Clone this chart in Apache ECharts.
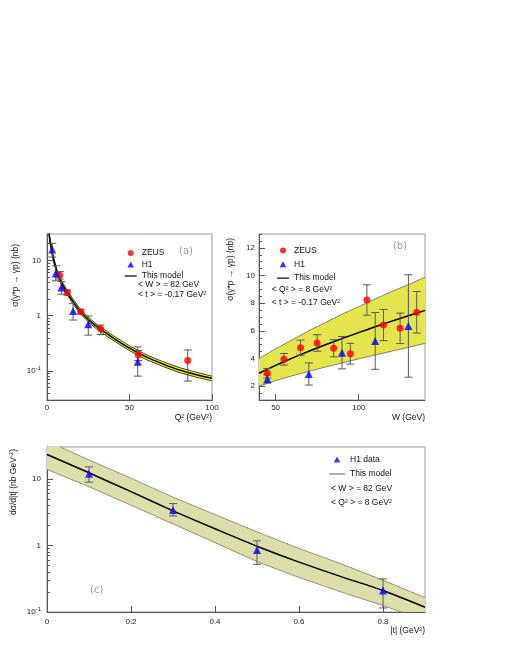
<!DOCTYPE html>
<html>
<head>
<meta charset="utf-8">
<script src="https://cdn.jsdelivr.net/npm/echarts@6/dist/echarts.min.js"></script>
<style>
  html, body { margin: 0; padding: 0; background: #fff; }
  #chart { width: 510px; height: 660px; }
</style>
</head>
<body>
<div id="chart"></div>
<script>
const FONT = 'Liberation Sans, Arial, sans-serif'

// (a) cross section vs Q2
const zeusQ2 = [7.7, 12.3, 20.4, 32.5, 55.3, 85.3]
const zeusQ2Sigma = [5.4, 2.62, 1.18, 0.58, 0.195, 0.156]
const zeusQ2Lo = [4.6, 2.35, 1.08, 0.46, 0.155, 0.066]
const zeusQ2Hi = [6.3, 2.9, 1.3, 0.68, 0.235, 0.241]
const h1Q2 = [3.2, 5.3, 8.7, 15.8, 25, 55]
const h1Q2Sigma = [15.7, 5.8, 3.23, 1.22, 0.7, 0.148]
const h1Q2Lo = [11.5, 4.28, 2.45, 0.836, 0.446, 0.081]
const h1Q2Hi = [20.4, 8.0, 4.15, 1.65, 0.99, 0.273]
const modelQ2 = [1.2, 2, 3, 4, 5, 6, 8, 10, 12, 15, 20, 25, 30, 40, 50, 60, 70, 80, 90, 100]
const modelQ2Sigma = [31, 21, 14.5, 10.5, 8, 6.3, 4.4, 3.4, 2.7, 1.95, 1.22, 0.86, 0.64, 0.4, 0.26, 0.18, 0.135, 0.105, 0.087, 0.074]
const modelQ2Hi = [34, 23.1, 16, 11.6, 8.8, 6.9, 4.85, 3.75, 2.97, 2.15, 1.34, 0.95, 0.7, 0.44, 0.286, 0.198, 0.149, 0.116, 0.096, 0.081]
const modelQ2Lo = [27.9, 18.9, 13.1, 9.45, 7.2, 5.67, 3.96, 3.06, 2.43, 1.76, 1.1, 0.774, 0.576, 0.36, 0.234, 0.162, 0.122, 0.0945, 0.078, 0.0666]

// (b) cross section vs W
const zeusW = [45, 55, 65, 75, 85, 95, 105, 115, 125, 135]
const zeusWSigma = [2.93, 3.94, 4.78, 5.12, 4.74, 4.35, 8.23, 6.42, 6.18, 7.34]
const zeusWErr = [0.35, 0.42, 0.55, 0.6, 0.62, 0.75, 1.1, 1.13, 1.1, 1.5]
const h1W = [45, 70, 90, 110, 130]
const h1WSigma = [2.52, 2.88, 4.42, 5.27, 6.35]
const h1WErr = [0.3, 0.8, 1.17, 2.05, 3.7]
const modelW = [40, 50, 60, 70, 80, 90, 100, 110, 120, 130, 140]
const modelWSigma = [2.93, 3.5, 4.03, 4.52, 4.99, 5.44, 5.87, 6.29, 6.7, 7.09, 7.48]
const modelWHi = [4.0, 4.7, 5.35, 6.0, 6.6, 7.2, 7.75, 8.3, 8.85, 9.35, 9.87]
const modelWLo = [2.0, 2.4, 2.75, 3.07, 3.38, 3.68, 3.97, 4.25, 4.53, 4.8, 5.1]

// (c) d sigma / d|t|
const h1T = [0.1, 0.3, 0.5, 0.8]
const h1TSigma = [11.9, 3.4, 0.85, 0.21]
const h1TLo = [8.9, 2.77, 0.52, 0.115]
const h1THi = [15.1, 4.24, 1.17, 0.314]
const modelT = [0, 0.1, 0.2, 0.3, 0.4, 0.5, 0.6, 0.7, 0.8, 0.9]
const modelTSigma = [23.1, 12.3, 6.4, 3.3, 1.78, 0.97, 0.56, 0.34, 0.21, 0.118]
const modelTHi = [37, 19.2, 10.2, 5.3, 2.9, 1.6, 0.9, 0.53, 0.3, 0.165]
const modelTLo = [13.8, 7.6, 4.0, 2.1, 1.1, 0.57, 0.33, 0.2, 0.125, 0.075]

// tick values
const logMajorTicks = [0.1, 1, 10]
const logMinorA = [0.04, 0.05, 0.06, 0.07, 0.08, 0.09, 0.2, 0.3, 0.4, 0.5, 0.6, 0.7, 0.8, 0.9, 2, 3, 4, 5, 6, 7, 8, 9, 20]
const logMinorC = [0.2, 0.3, 0.4, 0.5, 0.6, 0.7, 0.8, 0.9, 2, 3, 4, 5, 6, 7, 8, 9, 20]
const wTicks = [50, 100]
const sigmaWTicks = [2, 4, 6, 8, 10, 12]
const tTicks = [0, 0.2, 0.4, 0.6, 0.8]

const supRich = { s: { fontSize: 6, fontFamily: FONT, padding: [0, 0, 5, 0] } }
const LINE_ICON = 'path://M0,0h24v2.4h-24z'
const TRI_ICON = 'path://M5,0L10,9L0,9z'

function logLabel(v) {
  if (Math.abs(v - 10) < 1e-6) return '10'
  if (Math.abs(v - 1) < 1e-6) return '1'
  if (Math.abs(v - 0.1) < 1e-6) return '10{s|-1}'
  return ''
}

function errorBars(params, api) {
  const x = api.value(0)
  const lo = api.coord([x, api.value(2)])
  const hi = api.coord([x, api.value(3)])
  const cap = 4
  const style = { stroke: '#5a5a5a', lineWidth: 1 }
  return {
    type: 'group',
    children: [
      { type: 'line', shape: { x1: lo[0], y1: lo[1], x2: hi[0], y2: hi[1] }, style },
      { type: 'line', shape: { x1: lo[0] - cap, y1: lo[1], x2: lo[0] + cap, y2: lo[1] }, style },
      { type: 'line', shape: { x1: hi[0] - cap, y1: hi[1], x2: hi[0] + cap, y2: hi[1] }, style }
    ]
  }
}

function band(xs, lo, hi, fill, stroke, width) {
  return function (params, api) {
    const up = xs.map((x, i) => api.coord([x, hi[i]]))
    const dn = xs.map((x, i) => api.coord([x, lo[i]]))
    return {
      type: 'group',
      children: [
        { type: 'polygon', shape: { points: up.concat(dn.slice().reverse()) }, style: { fill, stroke: 'none' } },
        { type: 'polyline', shape: { points: up }, style: { stroke, fill: 'none', lineWidth: width } },
        { type: 'polyline', shape: { points: dn }, style: { stroke, fill: 'none', lineWidth: width } }
      ]
    }
  }
}

function pairs(xs, ys) {
  return xs.map((x, i) => [x, ys[i]])
}

const axisLine = { show: true, lineStyle: { color: '#555', width: 1 } }
const tickLabel = { color: '#222', fontSize: 8, fontFamily: FONT }
const legendText = { fontSize: 8.5, lineHeight: 10, fontFamily: FONT, color: '#111' }
const paramText = { fontSize: 8.5, fontFamily: FONT, fill: '#111', verticalAlign: 'middle' }
const panelTag = { fontSize: 10, fontFamily: 'DejaVu Sans', fill: '#999', align: 'center', verticalAlign: 'middle' }

const chart = echarts.init(document.getElementById('chart'), null, { renderer: 'canvas' })

chart.setOption({
  animation: false,
  backgroundColor: '#fff',
  grid: [
    { left: 47, top: 234, width: 165, height: 166, show: true, borderColor: '#999', borderWidth: 1 },
    { left: 259, top: 234, width: 166, height: 166, show: true, borderColor: '#999', borderWidth: 1 },
    { left: 47, top: 447, width: 378, height: 165, show: true, borderColor: '#999', borderWidth: 1 }
  ],
  xAxis: [
    {
      gridIndex: 0, type: 'value', min: 0, max: 100, interval: 50,
      axisLine, splitLine: { show: false },
      axisTick: { inside: true, length: 6, lineStyle: { color: '#555' } },
      axisLabel: { ...tickLabel, margin: 4 }
    },
    {
      gridIndex: 1, type: 'value', min: 40, max: 140,
      axisLine, splitLine: { show: false },
      axisTick: { inside: true, length: 6, customValues: wTicks, lineStyle: { color: '#555' } },
      axisLabel: { ...tickLabel, margin: 4, customValues: wTicks }
    },
    {
      gridIndex: 2, type: 'value', min: 0, max: 0.9,
      axisLine, splitLine: { show: false },
      axisTick: { inside: true, length: 6, customValues: tTicks, lineStyle: { color: '#555' } },
      axisLabel: { ...tickLabel, margin: 6, customValues: tTicks, formatter: (v) => String(+v.toFixed(1)) }
    }
  ],
  yAxis: [
    {
      gridIndex: 0, type: 'log', logBase: 10, min: 0.03, max: 30,
      axisLine, splitLine: { show: false },
      axisTick: { inside: true, length: 6, customValues: logMajorTicks, lineStyle: { color: '#555' } },
      axisLabel: { ...tickLabel, margin: 6, customValues: logMajorTicks, formatter: logLabel, rich: supRich }
    },
    {
      gridIndex: 0, type: 'log', logBase: 10, min: 0.03, max: 30, position: 'left',
      axisLine: { show: false }, splitLine: { show: false }, axisLabel: { show: false },
      axisTick: { inside: true, length: 3, customValues: logMinorA, lineStyle: { color: '#555' } }
    },
    {
      gridIndex: 1, type: 'value', min: 1, max: 13, interval: 0.5,
      axisLine, splitLine: { show: false },
      axisTick: { inside: true, length: 6, customValues: sigmaWTicks, lineStyle: { color: '#555' } },
      axisLabel: { ...tickLabel, margin: 4, customValues: sigmaWTicks }
    },
    {
      gridIndex: 1, type: 'value', min: 1, max: 13, interval: 0.5, position: 'left',
      axisLine: { show: false }, splitLine: { show: false }, axisLabel: { show: false },
      axisTick: { inside: true, length: 3, lineStyle: { color: '#555' } }
    },
    {
      gridIndex: 2, type: 'log', logBase: 10, min: 0.1, max: 30,
      axisLine, splitLine: { show: false },
      axisTick: { inside: true, length: 6, customValues: logMajorTicks, lineStyle: { color: '#555' } },
      axisLabel: { ...tickLabel, margin: 6, customValues: logMajorTicks, formatter: logLabel, rich: supRich }
    },
    {
      gridIndex: 2, type: 'log', logBase: 10, min: 0.1, max: 30, position: 'left',
      axisLine: { show: false }, splitLine: { show: false }, axisLabel: { show: false },
      axisTick: { inside: true, length: 3, customValues: logMinorC, lineStyle: { color: '#555' } }
    }
  ],
  legend: [
    {
      left: 124.7, top: 248, padding: 0, orient: 'vertical', itemWidth: 12, itemHeight: 6, itemGap: 1.5,
      selectedMode: false, textStyle: legendText,
      data: [
        { name: 'ZEUS', icon: 'circle' },
        { name: 'H1', icon: TRI_ICON },
        { name: 'This model', icon: LINE_ICON, itemStyle: { color: '#000' } }
      ]
    },
    {
      left: 277, top: 245.5, padding: 0, orient: 'vertical', itemWidth: 12, itemHeight: 6, itemGap: 3.8,
      selectedMode: false, textStyle: legendText,
      data: [
        { name: 'ZEUS', icon: 'circle' },
        { name: 'H1', icon: TRI_ICON },
        { name: 'This model', icon: LINE_ICON, itemStyle: { color: '#000' } }
      ]
    },
    {
      left: 329, top: 454.5, padding: 0, orient: 'vertical', itemWidth: 16, itemHeight: 6, itemGap: 4.5,
      selectedMode: false, textStyle: legendText,
      data: [
        { name: 'H1 data', icon: TRI_ICON },
        { name: 'This model', icon: LINE_ICON, itemStyle: { color: '#999' } }
      ]
    }
  ],
  graphic: [
    { type: 'text', x: 138, y: 284.3, style: { text: '< W > = 82 GeV', ...paramText } },
    { type: 'text', x: 138, y: 294.3, style: { text: '< t > = -0.17 GeV²', ...paramText } },
    { type: 'text', x: 186, y: 251, style: { text: '(a)', ...panelTag } },
    { type: 'text', x: 271.7, y: 289.3, style: { text: '< Q² > = 8 GeV²', ...paramText } },
    { type: 'text', x: 271.7, y: 302.3, style: { text: '< t > = -0.17 GeV²', ...paramText } },
    { type: 'text', x: 400, y: 246.7, style: { text: '(b)', ...panelTag } },
    { type: 'text', x: 331, y: 488.5, style: { text: '< W > = 82 GeV', ...paramText } },
    { type: 'text', x: 331, y: 503, style: { text: '< Q² > = 8 GeV²', ...paramText } },
    { type: 'text', x: 96.7, y: 590, style: { text: '(c)', ...panelTag } },
    // axis titles
    { type: 'text', x: 212, y: 417.5, style: { text: 'Q² (GeV²)', ...paramText, align: 'right' } },
    { type: 'text', x: 425, y: 417.5, style: { text: 'W (GeV)', ...paramText, align: 'right' } },
    { type: 'text', x: 425, y: 631, style: { text: '|t| (GeV²)', ...paramText, align: 'right' } },
    { type: 'text', x: 16, y: 244, rotation: Math.PI / 2, style: { text: 'σ(γ*p → γp) (nb)', ...paramText, align: 'right' } },
    { type: 'text', x: 231, y: 238, rotation: Math.PI / 2, style: { text: 'σ(γ*p → γp) (nb)', ...paramText, align: 'right' } },
    { type: 'text', x: 14, y: 449, rotation: Math.PI / 2, style: { text: 'dσ/d|t| (nb GeV{s|-2})', rich: supRich, ...paramText, align: 'right' } }
  ],
  series: [
    // (a)
    {
      type: 'custom', name: 'bandA', xAxisIndex: 0, yAxisIndex: 0, clip: true, z: 1, silent: true,
      data: [[modelQ2[0], modelQ2Sigma[0]]],
      renderItem: band(modelQ2, modelQ2Lo, modelQ2Hi, '#f2f21a', '#111', 0.8)
    },
    {
      type: 'line', name: 'This model', xAxisIndex: 0, yAxisIndex: 0, z: 2,
      symbol: 'none', smooth: 0.2, data: pairs(modelQ2, modelQ2Sigma),
      lineStyle: { color: '#000', width: 1.5 }, itemStyle: { color: '#000' }
    },
    {
      type: 'custom', name: 'zeusErrA', xAxisIndex: 0, yAxisIndex: 0, z: 3, silent: true,
      data: zeusQ2.map((x, i) => [x, zeusQ2Sigma[i], zeusQ2Lo[i], zeusQ2Hi[i]]),
      encode: { x: 0, y: 1 }, renderItem: errorBars
    },
    {
      type: 'custom', name: 'h1ErrA', xAxisIndex: 0, yAxisIndex: 0, z: 3, silent: true,
      data: h1Q2.map((x, i) => [x, h1Q2Sigma[i], h1Q2Lo[i], h1Q2Hi[i]]),
      encode: { x: 0, y: 1 }, renderItem: errorBars
    },
    {
      type: 'scatter', name: 'ZEUS', xAxisIndex: 0, yAxisIndex: 0, z: 4,
      symbol: 'circle', symbolSize: 7, data: pairs(zeusQ2, zeusQ2Sigma), itemStyle: { color: '#ff0000' }
    },
    {
      type: 'scatter', name: 'H1', xAxisIndex: 0, yAxisIndex: 0, z: 4,
      symbol: 'triangle', symbolSize: 8, data: pairs(h1Q2, h1Q2Sigma), itemStyle: { color: '#0000ff' }
    },
    // (b)
    {
      type: 'custom', name: 'bandB', xAxisIndex: 1, yAxisIndex: 2, clip: true, z: 1, silent: true,
      data: [[modelW[0], modelWSigma[0]]],
      renderItem: band(modelW, modelWLo, modelWHi, '#e4e44c', '#666', 0.8)
    },
    {
      type: 'line', name: 'This model', xAxisIndex: 1, yAxisIndex: 2, z: 2,
      symbol: 'none', smooth: 0.2, data: pairs(modelW, modelWSigma),
      lineStyle: { color: '#000', width: 1.5 }, itemStyle: { color: '#000' }
    },
    {
      type: 'custom', name: 'zeusErrB', xAxisIndex: 1, yAxisIndex: 2, z: 3, silent: true,
      data: zeusW.map((x, i) => [x, zeusWSigma[i], zeusWSigma[i] - zeusWErr[i], zeusWSigma[i] + zeusWErr[i]]),
      encode: { x: 0, y: 1 }, renderItem: errorBars
    },
    {
      type: 'custom', name: 'h1ErrB', xAxisIndex: 1, yAxisIndex: 2, z: 3, silent: true,
      data: h1W.map((x, i) => [x, h1WSigma[i], h1WSigma[i] - h1WErr[i], h1WSigma[i] + h1WErr[i]]),
      encode: { x: 0, y: 1 }, renderItem: errorBars
    },
    {
      type: 'scatter', name: 'ZEUS', xAxisIndex: 1, yAxisIndex: 2, z: 4,
      symbol: 'circle', symbolSize: 7, data: pairs(zeusW, zeusWSigma), itemStyle: { color: '#ff0000' }
    },
    {
      type: 'scatter', name: 'H1', xAxisIndex: 1, yAxisIndex: 2, z: 4,
      symbol: 'triangle', symbolSize: 8, data: pairs(h1W, h1WSigma), itemStyle: { color: '#0000ff' }
    },
    // (c)
    {
      type: 'custom', name: 'bandC', xAxisIndex: 2, yAxisIndex: 4, clip: true, z: 1, silent: true,
      data: [[modelT[0], modelTSigma[0]]],
      renderItem: band(modelT, modelTLo, modelTHi, '#dedeac', '#7a7a5c', 0.8)
    },
    {
      type: 'line', name: 'This model', xAxisIndex: 2, yAxisIndex: 4, z: 2,
      symbol: 'none', smooth: 0.2, data: pairs(modelT, modelTSigma),
      lineStyle: { color: '#000', width: 1.5 }, itemStyle: { color: '#000' }
    },
    {
      type: 'custom', name: 'h1ErrC', xAxisIndex: 2, yAxisIndex: 4, z: 3, silent: true,
      data: h1T.map((x, i) => [x, h1TSigma[i], h1TLo[i], h1THi[i]]),
      encode: { x: 0, y: 1 }, renderItem: errorBars
    },
    {
      type: 'scatter', name: 'H1 data', xAxisIndex: 2, yAxisIndex: 4, z: 4,
      symbol: 'triangle', symbolSize: 8, data: pairs(h1T, h1TSigma), itemStyle: { color: '#0000ff' }
    }
  ]
})
</script>
</body>
</html>
